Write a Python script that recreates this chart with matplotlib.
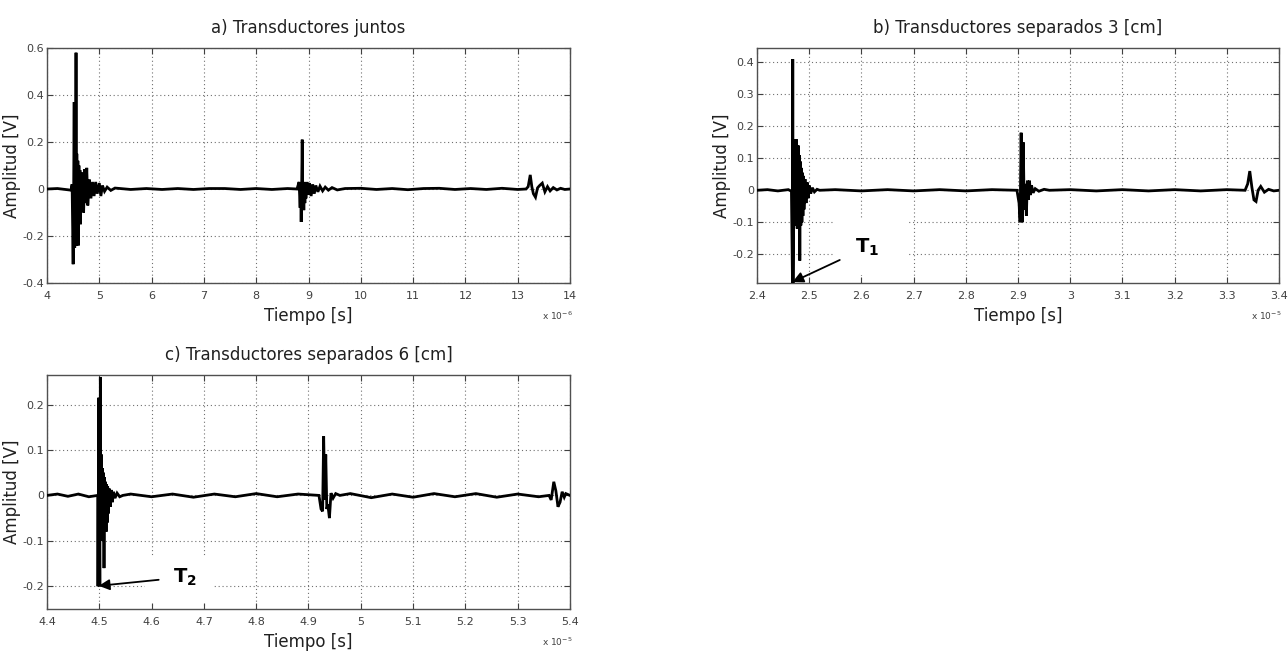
import matplotlib
matplotlib.use("Agg")
import matplotlib.pyplot as plt
from matplotlib.patches import Rectangle
import numpy as np

plt.rcParams['font.family'] = ['DejaVu Sans']

# ---------------- data ----------------
# Panel a: time in units of 1e-6 s
a_t = [4.00, 4.20, 4.35, 4.46, 4.48, 4.50, 4.51, 4.52, 4.53, 4.54, 4.55, 4.555, 4.56, 4.57,
       4.58, 4.59, 4.60, 4.61, 4.62, 4.63, 4.64, 4.65, 4.66, 4.68, 4.70, 4.72, 4.74, 4.76,
       4.78, 4.81, 4.84, 4.87, 4.90, 4.93, 4.96, 5.00, 5.03, 5.06, 5.10, 5.15, 5.22, 5.30,
       5.6, 5.9, 6.2, 6.5, 6.8, 7.1, 7.4, 7.7, 8.0, 8.3, 8.6, 8.78,
       8.82, 8.84, 8.85, 8.86, 8.87, 8.88, 8.89, 8.90, 8.91, 8.92, 8.93, 8.94, 8.95, 8.97,
       8.99, 9.02, 9.05, 9.08, 9.11, 9.14, 9.18, 9.22, 9.27, 9.32, 9.38, 9.45, 9.55, 9.70,
       10.0, 10.3, 10.6, 10.9, 11.2, 11.5, 11.8, 12.1, 12.4, 12.7, 13.0, 13.16,
       13.20, 13.24, 13.27, 13.30, 13.34, 13.38, 13.42, 13.47, 13.52, 13.57, 13.62, 13.68,
       13.75, 13.82, 13.90, 14.00]
a_v = [0.000, 0.002, -0.002, -0.005, 0.020, -0.320, 0.000, 0.370, -0.250, 0.300, -0.200,
       0.580, -0.240, 0.150, -0.230, 0.120, -0.240, 0.100, -0.120, 0.080, -0.150, 0.060,
       -0.080, 0.070, -0.100, 0.085, -0.060, 0.090, -0.070, 0.040, -0.040, 0.030, -0.030,
       0.030, -0.020, 0.025, -0.030, 0.015, -0.010, 0.008, -0.006, 0.004,
       -0.002, 0.002, -0.002, 0.002, -0.002, 0.002, 0.002, -0.002, 0.002, -0.002, 0.002, 0.000,
       0.030, -0.080, 0.020, -0.140, 0.020, 0.210, -0.080, 0.030, -0.090, 0.030, -0.060,
       0.025, -0.040, 0.030, -0.025, 0.025, -0.030, 0.020, -0.020, 0.015, -0.012, 0.012,
       -0.008, 0.008, -0.005, 0.006, -0.004, 0.002,
       0.003, -0.002, 0.002, -0.003, 0.002, 0.003, -0.002, 0.002, -0.002, 0.003, -0.002, 0.000,
       0.010, 0.060, 0.010, -0.020, -0.035, 0.005, 0.015, 0.025, -0.012, 0.010, -0.008, 0.006,
       -0.004, 0.003, -0.002, 0.000]

# Panel b: time in units of 1e-5 s
b_t = [2.400, 2.420, 2.440, 2.460, 2.466, 2.468, 2.4685, 2.469, 2.471, 2.473, 2.475,
       2.477, 2.479, 2.480, 2.481, 2.482, 2.483, 2.484, 2.485, 2.486, 2.487, 2.488, 2.489,
       2.490, 2.492, 2.494, 2.496, 2.498, 2.500, 2.503, 2.506, 2.510, 2.515, 2.520,
       2.55, 2.60, 2.65, 2.70, 2.75, 2.80, 2.85, 2.898,
       2.902, 2.904, 2.906, 2.908, 2.910, 2.912, 2.914, 2.916, 2.918, 2.920, 2.922,
       2.924, 2.926, 2.929, 2.933, 2.940, 2.950, 2.960,
       3.00, 3.05, 3.10, 3.15, 3.20, 3.25, 3.30, 3.335,
       3.340, 3.344, 3.348, 3.352, 3.356, 3.360, 3.365, 3.372, 3.380, 3.39, 3.40]
b_v = [0.000, 0.002, -0.002, 0.002, -0.003, -0.290, 0.410, -0.290, 0.160, -0.110,
       0.160, -0.120, 0.140, -0.110, 0.110, -0.220, 0.090, -0.110, 0.070, -0.100, 0.055,
       -0.080, 0.045, -0.060, 0.035, -0.040, 0.025, -0.025, 0.015, -0.010, 0.008, -0.005,
       0.003, 0.000,
       0.002, -0.002, 0.002, -0.002, 0.002, -0.002, 0.002, 0.000,
       -0.040, -0.100, 0.180, -0.100, 0.150, -0.060, 0.020, -0.080, 0.030, -0.030,
       0.030, -0.015, 0.015, -0.008, 0.005, -0.003, 0.003, 0.000,
       0.002, -0.002, 0.002, -0.002, 0.002, -0.002, 0.002, 0.000,
       0.020, 0.060, 0.010, -0.030, -0.035, 0.000, 0.012, -0.006, 0.003, -0.002, 0.000]

# Panel c: time in units of 1e-5 s
c_t = [4.400, 4.420, 4.440, 4.460, 4.480, 4.497, 4.4975, 4.499, 4.501, 4.502, 4.503,
       4.504, 4.505, 4.506, 4.507, 4.508, 4.509, 4.510, 4.511, 4.512, 4.513, 4.514, 4.515,
       4.516, 4.517, 4.519, 4.521, 4.523, 4.525, 4.527, 4.530, 4.534, 4.539, 4.545,
       4.56, 4.60, 4.64, 4.68, 4.72, 4.76, 4.80, 4.84, 4.88, 4.920,
       4.924, 4.927, 4.929, 4.931, 4.933, 4.935, 4.937, 4.940, 4.943, 4.947, 4.952, 4.960,
       4.98, 5.02, 5.06, 5.10, 5.14, 5.18, 5.22, 5.26, 5.30, 5.34, 5.360,
       5.364, 5.369, 5.373, 5.377, 5.381, 5.385, 5.389, 5.392, 5.396, 5.40]
c_v = [0.000, 0.003, -0.002, 0.003, -0.003, 0.000, -0.200, 0.215, -0.200, 0.260,
       -0.100, 0.090, -0.100, 0.060, -0.100, 0.050, -0.160, 0.040, -0.080, 0.030, -0.080,
       0.025, -0.060, 0.020, -0.040, 0.015, -0.025, 0.012, -0.015, 0.008, -0.006, 0.005,
       -0.003, 0.000,
       0.003, -0.003, 0.003, -0.004, 0.003, -0.003, 0.004, -0.003, 0.003, 0.000,
       -0.030, -0.035, 0.130, -0.010, 0.090, -0.030, -0.020, -0.050, 0.005, -0.006, 0.004, 0.000,
       0.004, -0.005, 0.003, -0.004, 0.004, -0.003, 0.004, -0.004, 0.003, -0.003, 0.000,
       -0.010, 0.030, 0.010, -0.025, -0.015, 0.008, -0.004, 0.004, 0.002, 0.000]

titles = ["a) Transductores juntos", "b) Transductores separados 3 [cm]",
          "c) Transductores separados 6 [cm]"]
xlims = [(4, 14), (2.4, 3.4), (4.4, 5.4)]
ylims = [(-0.4, 0.6), (-0.29, 0.445), (-0.25, 0.265)]
xticks = [np.arange(4, 14.01, 1), np.arange(2.4, 3.401, 0.1), np.arange(4.4, 5.401, 0.1)]
yticks = [np.arange(-0.4, 0.61, 0.2), np.arange(-0.2, 0.41, 0.1), np.arange(-0.2, 0.21, 0.1)]
exps = ["-6", "-5", "-5"]

# ---------------- figure ----------------
fig = plt.figure(figsize=(12.88, 6.55), dpi=100)
W, H = 1288, 655
boxes = [(47, 48, 570, 283), (757, 48, 1279, 283), (47, 375, 570, 609)]
axes = []
for (l, t, r, b) in boxes:
    axes.append(fig.add_axes([l / W, 1 - b / H, (r - l) / W, (b - t) / H]))

data = [(a_t, a_v), (b_t, b_v), (c_t, c_v)]
gray = "#404040"
for i, ax in enumerate(axes):
    t, v = data[i]
    ax.set_axisbelow(True)
    ax.plot(t, v, color="black", lw=2.0, solid_joinstyle="miter", zorder=3)
    ax.set_xlim(*xlims[i])
    ax.set_ylim(*ylims[i])
    ax.set_xticks(xticks[i])
    ax.set_yticks(yticks[i])
    ax.set_xticklabels([f"{round(x, 1):g}" for x in xticks[i]])
    ax.set_yticklabels([("0" if abs(y) < 1e-9 else f"{y:.1f}") for y in yticks[i]])
    ax.grid(True, linestyle=(0, (1, 2.5)), color="#707070", lw=0.8)
    ax.tick_params(direction="in", top=True, right=True, length=4, width=0.8,
                   labelsize=8, colors=gray, labelcolor=gray)
    ax.tick_params(axis="x", pad=6)
    ax.tick_params(axis="y", pad=2)
    for s in ax.spines.values():
        s.set_color("#505050")
        s.set_linewidth(1.0)
    ax.set_title(titles[i], fontsize=12, color="#202020", pad=11)
    ax.set_xlabel("Tiempo [s]", fontsize=12, color="#202020", labelpad=4)
    ax.set_ylabel("Amplitud [V]", fontsize=12, color="#202020", labelpad=1)
    ax.text(0.975, -0.115, "x 10$^{" + exps[i] + "}$", transform=ax.transAxes,
            fontsize=6.5, color=gray, ha="center", va="top")

# annotations T1 and T2 (with white masks like the pasted labels)
axb, axc = axes[1], axes[2]
axb.add_patch(Rectangle((2.545, -0.265), 0.147, 0.175, fc="white", ec="none", zorder=1))
axb.annotate("T$_\\mathbf{1}$", xy=(2.468, -0.287), xytext=(2.588, -0.178),
             fontsize=14, fontweight="bold", color="black", ha="left", va="center",
             arrowprops=dict(arrowstyle="-|>", color="black", lw=1.3,
                             mutation_scale=16, shrinkA=10, shrinkB=0),
             zorder=5)
axc.add_patch(Rectangle((4.588, -0.235), 0.132, 0.1, fc="white", ec="none", zorder=1))
axc.annotate("T$_\\mathbf{2}$", xy=(4.499, -0.199), xytext=(4.64, -0.18),
             fontsize=14, fontweight="bold", color="black", ha="left", va="center",
             arrowprops=dict(arrowstyle="-|>", color="black", lw=1.3,
                             mutation_scale=16, shrinkA=8, shrinkB=0),
             zorder=5)

fig.savefig("out.png", dpi=100, facecolor="white")
